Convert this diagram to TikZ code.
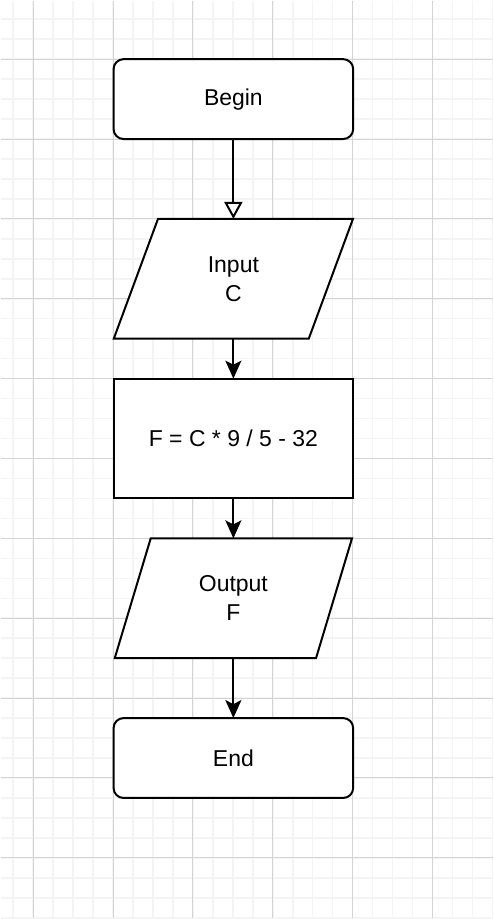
\documentclass[tikz,border=0pt]{standalone}
\usepackage{fontspec}
\setmainfont{Liberation Sans}
\usepackage{tikz}
\usetikzlibrary{arrows.meta}
\usetikzlibrary{shapes.geometric}
\definecolor{minorgray}{RGB}{244,244,244}
\definecolor{majorgray}{RGB}{212,212,212}

\begin{document}
\begin{tikzpicture}[x=1pt,y=-1pt,
    minorline/.style={minorgray,line width=1.5pt},
    majorline/.style={majorgray,line width=1pt},
    boxtext/.style={align=center,font=\fontsize{23}{29}\selectfont},
    terminal/.style={boxtext,draw,line width=2pt,rounded corners=10pt,minimum width=240pt,minimum height=80pt,inner sep=0pt,outer sep=0pt},
    process/.style={boxtext,draw,line width=2pt,minimum width=240pt,minimum height=120pt,inner sep=0pt,outer sep=0pt},
    iobox/.style={boxtext,draw,line width=2pt,trapezium,trapezium stretches=true,trapezium left angle=71.57,trapezium right angle=108.43,minimum width=240pt,minimum height=120pt,inner sep=0pt,outer sep=0pt},
    flowarrow/.style={line width=2pt,-{Stealth[length=18pt,width=16pt,inset=4pt]}},
    openarrow/.style={line width=2pt,-{Triangle[open,length=17pt,width=18pt,fill=white]}}]
    % Background and grid
    \fill[white] (0,0) rectangle (493,919);
    \foreach \gx in {12.5,32.5,...,492.5}
        \draw[minorline] (\gx,0) -- (\gx,919);
    \foreach \gy in {18.5,38.5,...,918.5}
        \draw[minorline] (0,\gy) -- (493,\gy);
    \foreach \gx in {32.5,112.5,...,432.5}
        \draw[majorline] (\gx,0) -- (\gx,919);
    \foreach \gy in {58.5,138.5,...,858.5}
        \draw[majorline] (0,\gy) -- (493,\gy);

    % Shapes
    \node[terminal,fill=white] (start) at (233,98.5) {Begin};
    \node[iobox,fill=white] (input) at (233,278.5) {Input\\C};
    \node[process,fill=white] (calc) at (233,438.5) {F = C * 9 / 5 - 32};
    \node[iobox,fill=white] (output) at (233,598.5) {Output\\F};
    \node[terminal,fill=white] (stop) at (233,758.5) {End};

    % Arrows
    \draw[openarrow] (start) -- (input);
    \draw[flowarrow] (input) -- (calc);
    \draw[flowarrow] (calc) -- (output);
    \draw[flowarrow] (output) -- (stop);
\end{tikzpicture}
\end{document}
